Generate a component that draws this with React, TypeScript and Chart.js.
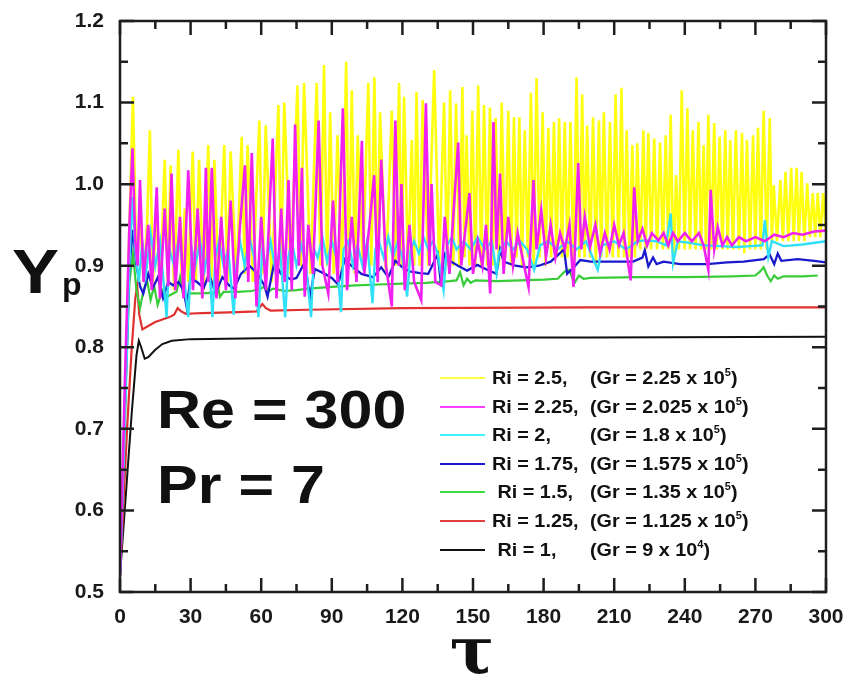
import React, { useEffect, useRef } from "react";
import { Chart, registerables } from "chart.js";

Chart.register(...registerables);

// ---- axis ticks ----
const xTicks = [0, 30, 60, 90, 120, 150, 180, 210, 240, 270, 300];
const xMinorTicks = [15, 45, 75, 105, 135, 165, 195, 225, 255, 285];
const yTicks = [0.5, 0.6, 0.7, 0.8, 0.9, 1.0, 1.1, 1.2];
const yTickLabels = ["0.5", "0.6", "0.7", "0.8", "0.9", "1.0", "1.1", "1.2"];
const yMinorTicks = [0.55, 0.65, 0.75, 0.85, 0.95, 1.05, 1.15];

// ---- series data: [tau, Yp] ----
const ri250: [number, number][] = [
  [0, 0.52], [2, 0.7], [4, 0.95], [5.5, 1.107], [7, 0.9], [8.5, 0.96], [10, 0.88], [11.5, 0.95], [12.7, 1.066], [14, 0.88],
  [15.5, 0.97], [17, 0.87], [19, 1.03], [20.3, 0.88], [21.5, 1.023], [23, 0.87], [24.8, 1.042], [26.2, 0.88], [27.5, 0.97], [29, 0.88],
  [30.9, 1.04], [32.2, 0.88], [33.6, 1.03], [35.5, 0.87], [37.5, 1.048], [38.8, 0.88], [40.1, 1.03], [42, 0.87], [44.3, 1.048], [45.7, 0.88],
  [47, 1.04], [49.5, 0.88], [51.7, 1.058], [53, 0.89], [54.2, 1.048], [56.5, 0.88], [59.2, 1.078], [60.6, 0.89], [61.9, 1.072], [64.5, 0.88],
  [67.3, 1.097], [68.5, 0.9], [69.8, 1.1], [72.5, 0.89], [75.4, 1.121], [76.8, 0.9], [78.2, 1.124], [81, 0.89], [83.6, 1.124], [85.2, 0.9],
  [86.7, 1.146], [88, 0.9], [89.3, 1.088], [90.8, 0.89], [92.4, 1.06], [94.3, 0.89], [96.1, 1.15], [97.3, 0.9], [98.5, 1.115], [99.8, 0.89],
  [101, 1.06], [103.2, 0.9], [105.5, 1.124], [106.8, 0.9], [108.1, 1.131], [109.3, 0.9], [110.5, 1.088], [113, 0.89], [115.5, 1.09], [117, 0.9],
  [118.6, 1.124], [119.7, 0.9], [120.7, 1.107], [122.4, 0.9], [124, 1.054], [125, 0.9], [126, 1.113], [127.3, 0.9], [128.6, 1.103], [131, 0.9],
  [133.5, 1.14], [135.6, 0.9], [137.7, 1.1], [139, 0.9], [140.3, 1.115], [141.6, 0.9], [142.8, 1.099], [144.2, 0.9], [145.5, 1.119], [146.4, 0.91],
  [147.3, 1.06], [148.5, 0.9], [149.7, 1.09], [151, 0.9], [152.2, 1.121], [153.5, 0.9], [154.7, 1.097], [156, 0.9], [157.2, 1.094], [158.4, 0.9],
  [159.6, 1.081], [161, 0.9], [162.2, 1.1], [163.6, 0.91], [165, 1.09], [166.2, 0.9], [167.4, 1.082], [168.5, 0.91], [169.7, 1.082], [170.8, 0.9],
  [172, 1.066], [173.3, 0.91], [174.6, 1.112], [175.8, 0.9], [177, 1.13], [178.3, 0.91], [179.6, 1.088], [180.8, 0.9], [182, 1.069], [183.2, 0.91],
  [184.4, 1.076], [185.5, 0.91], [186.6, 1.081], [187.8, 0.91], [189, 1.076], [190.2, 0.91], [191.4, 1.076], [192.7, 0.9], [194, 1.131], [195.2, 0.91],
  [196.4, 1.11], [197.4, 0.91], [198.5, 1.072], [199.8, 0.91], [201, 1.082], [202.2, 0.9], [203.5, 1.078], [204.5, 0.91], [205.6, 1.088], [206.9, 0.91],
  [208.2, 1.076], [209.4, 0.91], [210.6, 1.11], [211.8, 0.91], [213.1, 1.118], [214.2, 0.91], [215.3, 1.066], [216.5, 0.91], [217.7, 1.048], [218.8, 0.91],
  [219.8, 1.05], [221.1, 0.92], [222.4, 1.066], [223.4, 0.92], [224.5, 1.063], [225.7, 0.92], [227, 1.056], [228.2, 0.92], [229.5, 1.051], [230.7, 0.92],
  [231.9, 1.06], [233, 0.92], [234, 1.085], [235.2, 0.9], [236.3, 1.011], [237.5, 0.92], [238.7, 1.115], [239.9, 0.92], [241.1, 1.093], [242.2, 0.92],
  [243.4, 1.066], [244.6, 0.92], [245.8, 1.076], [246.9, 0.92], [248, 1.048], [249, 0.92], [250, 1.085], [251.2, 0.92], [252.5, 1.075], [253.6, 0.92],
  [254.8, 1.058], [256, 0.92], [257.2, 1.066], [258.2, 0.92], [259.3, 1.054], [260.5, 0.92], [261.7, 1.066], [263, 0.92], [264.3, 1.063], [265.3, 0.915],
  [266.4, 1.054], [267.7, 0.92], [269, 1.06], [270, 0.92], [271.1, 1.069], [272.3, 0.92], [273.5, 1.09], [274.8, 0.92], [276.1, 1.081], [277, 0.93],
  [277.8, 0.999], [279.2, 0.93], [280.6, 1.005], [281.7, 0.93], [282.8, 1.015], [284, 0.93], [285.2, 1.02], [286.3, 0.93], [287.5, 1.02], [288.5, 0.93],
  [289.6, 1.015], [290.8, 0.93], [292, 1.001], [293.2, 0.935], [294.4, 0.989], [295.4, 0.935], [296.5, 0.989], [297.6, 0.935], [298.8, 0.989], [300, 0.94],
];

const ri225: [number, number][] = [
  [0, 0.52], [2, 0.75], [4, 0.95], [5.3, 1.044], [6.5, 0.93], [7.5, 0.9], [8.5, 1.005], [10, 0.88], [12, 0.95], [13.5, 0.87],
  [15.6, 0.996], [17, 0.86], [19, 0.97], [20.5, 0.875], [21.9, 1.013], [23.5, 0.87], [25.5, 0.96], [27, 0.86], [29, 1.017], [31, 0.87],
  [33, 0.97], [35, 0.86], [36.5, 1.02], [37.5, 0.88], [39, 1.02], [41, 0.86], [43, 0.96], [45, 0.87], [47, 0.98], [49, 0.86],
  [51, 0.95], [53.1, 1.023], [54.5, 0.88], [56, 1.038], [58, 0.85], [60, 0.96], [62, 0.87], [64.9, 1.056], [66.5, 0.86], [68.5, 0.97],
  [70, 0.88], [71.6, 1.005], [73, 0.87], [74.4, 1.073], [76, 0.9], [77.3, 1.02], [78.5, 0.862], [80, 0.95], [82, 0.89], [84.4, 1.078],
  [86, 0.9], [88.5, 0.866], [90.5, 0.98], [92.5, 0.88], [94.7, 1.093], [96.5, 0.87], [98.5, 0.96], [100.5, 0.88], [102.8, 1.053], [103.8, 0.89],
  [106, 0.95], [108, 1.011], [109.5, 0.88], [111, 1.03], [113, 0.9], [115.5, 0.85], [117, 1.078], [118.5, 0.9], [119.6, 1.0], [121, 0.87],
  [123, 0.95], [125, 0.88], [128, 0.858], [130, 1.099], [131.5, 0.9], [132.4, 1.0], [134, 0.88], [136.5, 0.876], [138, 0.96], [140, 0.89],
  [143.7, 1.051], [145, 0.9], [147, 0.95], [148.5, 0.989], [150, 0.89], [152, 0.93], [154, 0.9], [155.5, 0.95], [157.3, 0.866], [158.7, 1.076],
  [160, 0.92], [161.5, 1.013], [163, 0.89], [165, 0.96], [167, 0.9], [169, 0.94], [171, 0.91], [173.6, 0.874], [175.7, 1.005], [177, 0.92],
  [179, 0.968], [181, 0.91], [183, 0.95], [185, 0.91], [187, 0.94], [189, 0.92], [191, 0.95], [192.7, 0.874], [194.7, 1.026], [196, 0.92],
  [197.5, 0.96], [199.7, 0.923], [202, 0.95], [204, 0.915], [206, 0.94], [208, 0.92], [210, 0.95], [212, 0.925], [214, 0.94], [217, 0.882],
  [218.5, 0.996], [220, 0.93], [222, 0.945], [224, 0.925], [226, 0.94], [228.8, 0.931], [231, 0.94], [233, 0.925], [235, 0.94], [237, 0.93],
  [240, 0.94], [243, 0.93], [246, 0.94], [248, 0.925], [250, 0.895], [251, 0.993], [252.5, 0.92], [254, 0.947], [256, 0.925], [258, 0.935],
  [260, 0.925], [263, 0.935], [266, 0.93], [270, 0.935], [274, 0.93], [278, 0.938], [282, 0.935], [286, 0.94], [290, 0.938], [295, 0.942],
  [300, 0.943],
];

const ri200: [number, number][] = [
  [0, 0.52], [2, 0.7], [4, 0.9], [5.1, 0.984], [6.5, 0.92], [8, 0.88], [9.5, 0.93], [11, 0.89], [13, 0.94], [15, 0.9],
  [17, 0.93], [19.8, 0.837], [21, 0.92], [23, 0.9], [25, 0.935], [27, 0.89], [29, 0.837], [30.5, 0.92], [32, 0.9], [34, 0.93],
  [36, 0.895], [37.5, 0.92], [39.3, 0.837], [40.5, 0.91], [42, 0.93], [44, 0.9], [46, 0.92], [48.3, 0.84], [49.5, 0.9], [51, 0.93],
  [53, 0.9], [55, 0.935], [57, 0.91], [58.8, 0.837], [60.5, 0.92], [62, 0.9], [64, 0.93], [66, 0.895], [68, 0.92], [70.2, 0.837],
  [71.5, 0.91], [73, 0.93], [75, 0.9], [77, 0.925], [79, 0.9], [81.2, 0.837], [82.5, 0.92], [84, 0.91], [86, 0.935], [88, 0.905],
  [90, 0.93], [92, 0.91], [93.9, 0.843], [95, 0.92], [97, 0.93], [99, 0.9], [101, 0.925], [103, 0.9], [105, 0.93], [107.3, 0.854],
  [108.5, 0.92], [110, 0.93], [112, 0.91], [114, 0.935], [116, 0.91], [118, 0.93], [120, 0.91], [122, 0.862], [123.5, 0.92], [125, 0.93],
  [127, 0.915], [129, 0.935], [131, 0.92], [133, 0.93], [135, 0.915], [137.5, 0.87], [139, 0.925], [141, 0.935], [143, 0.92], [146, 0.93],
  [149, 0.92], [152, 0.935], [155, 0.92], [158, 0.93], [160, 0.891], [161, 0.915], [164, 0.93], [167, 0.92], [170, 0.93], [173, 0.92],
  [176, 0.895], [178.5, 0.925], [182, 0.93], [186, 0.92], [190, 0.93], [194, 0.92], [198, 0.93], [203, 0.895], [205, 0.925], [210, 0.93],
  [215, 0.92], [220, 0.93], [223, 0.931], [228, 0.93], [232, 0.925], [234, 0.964], [235, 0.903], [237, 0.93], [242, 0.928], [248, 0.925],
  [255, 0.924], [262, 0.923], [268, 0.924], [273, 0.925], [274, 0.956], [275.5, 0.911], [277, 0.93], [282, 0.924], [290, 0.926], [300, 0.93],
];

const ri175: [number, number][] = [
  [0, 0.52], [2, 0.72], [4, 0.9], [5.5, 0.944], [7, 0.9], [8.5, 0.875], [9.9, 0.866], [12, 0.89], [14, 0.873], [16.1, 0.886],
  [18.3, 0.86], [20.5, 0.88], [22.6, 0.876], [24.8, 0.88], [27, 0.87], [28.4, 0.848], [29.9, 0.885], [32.7, 0.88], [35.6, 0.873], [37.8, 0.89],
  [40.6, 0.866], [43.5, 0.886], [46.3, 0.876], [48.5, 0.872], [51.4, 0.89], [55, 0.9], [58.5, 0.89], [61.3, 0.876], [62.7, 0.862], [65.6, 0.905],
  [68.4, 0.89], [72.7, 0.883], [75, 0.885], [78.6, 0.905], [80.7, 0.86], [82.8, 0.896], [87, 0.89], [90, 0.885], [92.7, 0.877], [95.5, 0.908],
  [98.3, 0.9], [102.6, 0.89], [107.5, 0.886], [111, 0.898], [114, 0.886], [117, 0.906], [119.6, 0.899], [123, 0.893], [127.5, 0.891], [131, 0.89],
  [135, 0.914], [136.5, 0.875], [137.7, 0.915], [139, 0.908], [143.6, 0.9], [147.5, 0.894], [151.8, 0.901], [156, 0.895], [160, 0.89], [161.5, 0.92],
  [163, 0.905], [168, 0.9], [172.8, 0.898], [178, 0.9], [183, 0.905], [188.7, 0.92], [190, 0.89], [192.8, 0.898], [195.6, 0.907], [200, 0.905],
  [204, 0.905], [210, 0.905], [218, 0.905], [222, 0.91], [223, 0.919], [224.5, 0.899], [226.5, 0.91], [228, 0.902], [231, 0.905], [238, 0.902],
  [249.5, 0.902], [258, 0.904], [265, 0.905], [273.6, 0.908], [276, 0.914], [278, 0.902], [279.5, 0.915], [281, 0.906], [288, 0.908], [295, 0.906],
  [300, 0.904],
];

const ri150: [number, number][] = [
  [0, 0.52], [2, 0.72], [4, 0.88], [5.5, 0.915], [7, 0.87], [8.5, 0.848], [10, 0.87], [11.5, 0.882], [13, 0.858], [14.5, 0.875],
  [16, 0.852], [18, 0.87], [20, 0.862], [22, 0.865], [24, 0.868], [25.5, 0.886], [26.8, 0.864], [28, 0.862], [30, 0.866], [35, 0.866],
  [40, 0.867], [41.5, 0.876], [42.5, 0.862], [44, 0.868], [50, 0.868], [56, 0.869], [60, 0.872], [62, 0.875], [63, 0.868], [65, 0.872],
  [70, 0.869], [75, 0.87], [80, 0.872], [90, 0.874], [100, 0.876], [110, 0.877], [120, 0.878], [130, 0.879], [140, 0.881], [143, 0.882],
  [144.5, 0.892], [146, 0.876], [147.5, 0.884], [149, 0.879], [151, 0.882], [160, 0.881], [170, 0.882], [180, 0.883], [186, 0.884], [189, 0.893],
  [191, 0.895], [193, 0.878], [195, 0.888], [197, 0.884], [200, 0.885], [220, 0.886], [240, 0.886], [260, 0.887], [270, 0.888], [272, 0.893],
  [273.5, 0.898], [275, 0.888], [276.5, 0.881], [278, 0.888], [279.5, 0.884], [282, 0.887], [290, 0.887], [296.5, 0.888],
];

const ri125: [number, number][] = [
  [0, 0.52], [3, 0.7], [5, 0.8], [6.5, 0.86], [7.3, 0.875], [8.2, 0.84], [9.5, 0.822], [12, 0.826], [15, 0.831], [18, 0.834],
  [21, 0.837], [23, 0.84], [24.5, 0.848], [26, 0.844], [28, 0.841], [35, 0.842], [50, 0.843], [58, 0.844], [60.5, 0.853], [62, 0.848],
  [64, 0.845], [80, 0.846], [120, 0.848], [200, 0.849], [300, 0.849],
];

const ri100: [number, number][] = [
  [0, 0.52], [2, 0.6], [5, 0.72], [7, 0.79], [8, 0.808], [9, 0.8], [10.5, 0.786], [12, 0.788], [15, 0.797], [18, 0.804],
  [22, 0.808], [30, 0.81], [60, 0.811], [120, 0.812], [200, 0.812], [300, 0.813],
];

// ---- legend text ----
const legendRi = ["Ri = 2.5,", "Ri = 2.25,", "Ri = 2,", "Ri = 1.75,", " Ri = 1.5,", "Ri = 1.25,", " Ri = 1,"];
const legendGr = ["2.25", "2.025", "1.8", "1.575", "1.35", "1.125", "9"];
const legendExp = ["5", "5", "5", "5", "5", "5", "4"];

const seriesData = [ri250, ri225, ri200, ri175, ri150, ri125, ri100];
const lineColors = ["#FFFF10", "#F020F0", "#30E0F8", "#1A1ACC", "#38CC38", "#E03030", "#111111"];
const lineWidths = [2.6, 2.6, 2.4, 2.3, 2.2, 2.2, 2];
const legendColors = ["#FFFF40", "#FF40FF", "#40F0FF", "#1A1ACC", "#40DD40", "#E04040", "#111111"];
const drawOrder = [7, 1, 2, 3, 4, 5, 6];

const SANS = "'Liberation Sans', Arial, sans-serif";

export default function App() {
  const ref = useRef<HTMLCanvasElement>(null);

  useEffect(() => {
    const framePlugin = {
      id: "frame",
      afterDraw(chart: any) {
        const { ctx, chartArea } = chart;
        const { left, right, top, bottom } = chartArea;
        const xs = chart.scales.x;
        const ys = chart.scales.y;
        ctx.save();
        ctx.strokeStyle = "#1e1e1e";
        ctx.lineWidth = 2.5;
        ctx.strokeRect(left, top, right - left, bottom - top);
        ctx.beginPath();
        const tickX = (v: number, len: number) => {
          const px = xs.getPixelForValue(v);
          ctx.moveTo(px, bottom);
          ctx.lineTo(px, bottom - len);
          ctx.moveTo(px, top);
          ctx.lineTo(px, top + len);
        };
        const tickY = (v: number, len: number) => {
          const py = ys.getPixelForValue(v);
          ctx.moveTo(left, py);
          ctx.lineTo(left + len, py);
          ctx.moveTo(right, py);
          ctx.lineTo(right - len, py);
        };
        xTicks.forEach((v) => tickX(v, 14));
        xMinorTicks.forEach((v) => tickX(v, 8));
        yTicks.forEach((v) => tickY(v, 14));
        yMinorTicks.forEach((v) => tickY(v, 8));
        ctx.stroke();
        ctx.restore();
      },
    };

    const tickFont = { family: SANS, size: 21, weight: "bold" as const };

    const chart = new Chart(ref.current as HTMLCanvasElement, {
      type: "line",
      data: {
        datasets: seriesData.map((s, i) => ({
          label: legendRi[i],
          data: s.map(([x, y]) => ({ x, y })),
          borderColor: lineColors[i],
          backgroundColor: lineColors[i],
          borderWidth: lineWidths[i],
          pointRadius: 0,
          tension: 0,
          fill: false,
          order: drawOrder[i],
        })),
      },
      options: {
        responsive: false,
        animation: false,
        devicePixelRatio: 1,
        parsing: false as any,
        layout: { padding: { top: 21, right: 22, left: 0, bottom: 0 } },
        plugins: { legend: { display: false }, tooltip: { enabled: false } },
        scales: {
          x: {
            type: "linear",
            min: 0,
            max: 300,
            grid: { display: false, drawTicks: false },
            border: { display: false },
            ticks: { font: tickFont, color: "#1a1a1a", padding: 13, maxRotation: 0, autoSkip: false },
            afterBuildTicks: (s: any) => {
              s.ticks = xTicks.map((v) => ({ value: v }));
            },
            afterFit: (s: any) => {
              s.height = 87;
              s.paddingLeft = 0;
              s.paddingRight = 0;
            },
          },
          y: {
            type: "linear",
            min: 0.5,
            max: 1.2,
            grid: { display: false, drawTicks: false },
            border: { display: false },
            ticks: {
              font: tickFont,
              color: "#1a1a1a",
              padding: 16,
              autoSkip: false,
              callback: (_v: any, i: number) => yTickLabels[i],
            },
            afterBuildTicks: (s: any) => {
              s.ticks = yTicks.map((v) => ({ value: v }));
            },
            afterFit: (s: any) => {
              s.width = 120;
              s.paddingTop = 0;
              s.paddingBottom = 0;
            },
          },
        },
      },
      plugins: [framePlugin],
    });
    return () => chart.destroy();
  }, []);

  const abs = (extra: React.CSSProperties): React.CSSProperties => ({
    position: "absolute",
    whiteSpace: "pre",
    lineHeight: 1,
    fontFamily: SANS,
    fontWeight: "bold",
    color: "#111",
    ...extra,
  });

  const rowCenters = [378, 407, 435, 464, 492, 521, 550];

  return (
    <div style={{ position: "fixed", left: 0, top: 0, width: 848, height: 679, background: "#fff", overflow: "hidden" }}>
      <canvas ref={ref} width={848} height={679} style={{ position: "absolute", left: 0, top: 0 }} />
      {/* axis titles */}
      <div style={abs({ left: 12, top: 240, fontSize: 63, transform: "scaleX(1.12)", transformOrigin: "left top" })}>Y</div>
      <div style={abs({ left: 62, top: 268, fontSize: 32 })}>p</div>
      <div style={abs({ left: 422, width: 100, top: 617, fontSize: 66, textAlign: "center", fontFamily: "'DejaVu Serif', serif" })}>τ</div>
      {/* annotations */}
      <div style={abs({ left: 157, top: 382, fontSize: 54, transform: "scaleX(1.13)", transformOrigin: "left top" })}>Re = 300</div>
      <div style={abs({ left: 157, top: 457, fontSize: 54, transform: "scaleX(1.13)", transformOrigin: "left top" })}>Pr = 7</div>
      {/* legend */}
      {legendRi.map((t, i) => (
        <React.Fragment key={i}>
          <div
            style={{
              position: "absolute",
              left: 440,
              width: 45,
              top: rowCenters[i] - 1,
              height: 0,
              borderTop: `2px solid ${legendColors[i]}`,
            }}
          />
          <div style={abs({ left: 492, top: rowCenters[i] - 8.8, fontSize: 18, transform: "scaleX(1.1)", transformOrigin: "left top" })}>{t}</div>
          <div style={abs({ left: 590, top: rowCenters[i] - 8.8, fontSize: 18, transform: "scaleX(1.1)", transformOrigin: "left top" })}>
            {"(Gr = " + legendGr[i] + " x 10"}
            <span style={{ fontSize: 10, position: "relative", top: -8 }}>{legendExp[i]}</span>
            {")"}
          </div>
        </React.Fragment>
      ))}
    </div>
  );
}
